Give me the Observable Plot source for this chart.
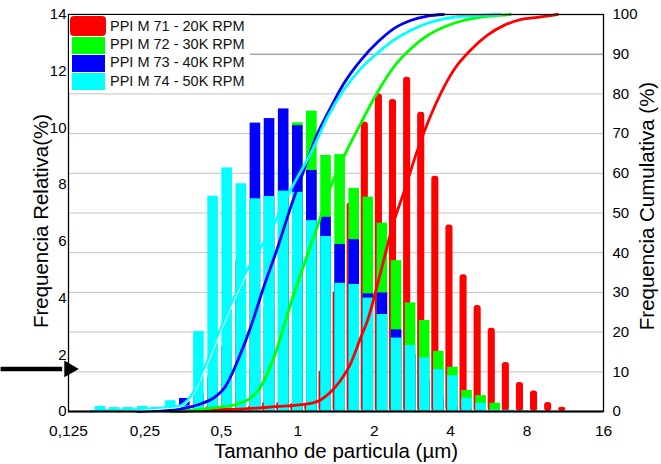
<!DOCTYPE html>
<html><head><meta charset="utf-8">
<script src="https://cdn.jsdelivr.net/npm/d3@7"></script>
<script src="https://cdn.jsdelivr.net/npm/@observablehq/plot@0.6"></script>
<style>
body{margin:0;background:#fff;font-family:"Liberation Sans",Arial,sans-serif;}
#wrap{position:relative;width:661px;height:464px;overflow:hidden;}
#legend{position:absolute;left:69px;top:15px;width:181px;height:77px;background:#fff;}
.sw{position:absolute;}
.lt{position:absolute;left:41px;font-size:14.5px;color:#111;line-height:18px;white-space:nowrap;}
</style></head>
<body><div id="wrap"><div id="chart"></div><div id="legend"></div></div>
<script>
// particle size bins (µm, bin centres)
const sizes = [0.167,0.190,0.215,0.245,0.278,0.316,0.359,0.408,0.464,0.527,0.599,0.681,0.774,0.880,1.000,1.136,1.292,1.468,1.668,1.896,2.154,2.448,2.783,3.162,3.594,4.084,4.642,5.275,5.995,6.813,7.743,8.799,10.0,11.365];
// relative frequency (%) per bin
const freq71 = [0,0,0,0,0,0,0,0.05,0.18,0.1,0.1,0.2,0.33,0.33,0.3,0.3,1.45,4.24,7.35,10.2,11.2,11.0,11.79,10.55,8.3,6.58,4.82,3.74,2.94,1.73,1.02,0.72,0.32,0.15];
const freq72 = [0,0,0,0,0,0.02,0.05,0.1,0.15,0.25,0.6,1.5,3.6,8.6,10.18,10.59,9.03,9.06,7.87,7.56,6.64,5.32,3.83,3.21,2.12,1.56,0.74,0.56,0.29,0.04,0,0,0,0];
const freq73 = [0,0.02,0.03,0.05,0.08,0.15,0.46,0.6,1.2,2.3,5.3,10.17,10.33,10.67,10.08,8.5,6.85,5.89,6.06,4.15,4.18,2.88,2.0,1.1,0.5,0.2,0.1,0.03,0,0,0,0,0,0];
const freq74 = [0.18,0.14,0.14,0.18,0.15,0.38,0.2,2.82,7.59,8.59,8.03,7.5,7.58,7.77,7.73,6.73,6.17,4.52,4.48,4.0,3.42,2.59,2.33,1.89,1.48,1.26,0.47,0.29,0.06,0.04,0.03,0.02,0,0];
// cumulative frequency curves [size µm, cumulative %]
const cum71 = [[0.33,0],[0.466,0.4],[0.634,0.7],[0.855,1.3],[1.092,1.9],[1.229,2.9],[1.346,4.9],[1.473,7.8],[1.613,12],[1.766,18.5],[1.882,22.9],[2.118,35],[2.382,47.5],[2.609,55],[2.989,66.6],[3.649,80],[4.105,85.9],[4.789,91],[5.587,94.8],[6.46,97.2],[7.536,98.7],[8.793,99.3],[10.54,100]];
const cum72 = [[0.315,0],[0.345,0.1],[0.466,0.9],[0.579,1.9],[0.651,3.4],[0.713,6.1],[0.767,10.3],[0.832,16.2],[0.895,22.9],[0.936,27],[1.092,39.5],[1.207,47.5],[1.346,56.5],[1.514,64],[1.766,72.4],[2.06,80.4],[2.382,86.7],[2.779,91.3],[3.242,94.7],[3.749,96.8],[4.374,98.3],[5.103,99.2],[5.741,99.6],[6.884,100]];
const cum73 = [[0.234,0],[0.288,0.3],[0.355,0.8],[0.414,1.9],[0.466,3.4],[0.519,6.3],[0.579,12.7],[0.651,21.1],[0.733,31.2],[0.832,41.2],[0.936,51.3],[1.053,60.5],[1.196,70],[1.309,75],[1.514,82.5],[1.766,88.4],[2.06,93],[2.382,96.4],[2.779,98.5],[3.242,99.6],[3.749,100]];
const cum74 = [[0.153,0],[0.176,0.2],[0.2,0.3],[0.228,0.45],[0.258,0.6],[0.296,0.9],[0.336,1.2],[0.381,4],[0.433,11.5],[0.492,20.1],[0.558,28.2],[0.634,35.7],[0.767,44.6],[0.962,57.2],[1.122,64.9],[1.309,74.1],[1.514,80.9],[1.766,86.3],[2.06,90.3],[2.382,93.5],[2.779,96],[3.242,97.8],[3.749,98.9],[4.374,99.5],[5.244,99.8],[6.286,100]];
const seriesNames = ["PPI M 71 - 20K RPM","PPI M 72 - 30K RPM","PPI M 73 - 40K RPM","PPI M 74 - 50K RPM"];
const colors = ["#ff0000","#00ff00","#0000ff","#00ffff"];
const xTicks = [0.125,0.25,0.5,1,2,4,8,16];
const xTickLabels = ["0,125","0,25","0,5","1","2","4","8","16"];
const yTicks = [0,2,4,6,8,10,12,14];
const cumTicks = [0,10,20,30,40,50,60,70,80,90,100];
const arrowNote = {x1: 0.0675, x2: 0.118, tip: 0.1257, y: 1.5};

const yMax = 14;
const toY = v => v * yMax / 100;
const ratio = Math.pow(sizes[sizes.length-1]/sizes[0], 1/(sizes.length-1));
const half = Math.sqrt(ratio);
const freqs = [freq71, freq72, freq73, freq74];
const cums = [cum71, cum72, cum73, cum74];
const barTables = freqs.map((arr, s) => arr.map((v, i) => ({size: sizes[i], value: v, series: seriesNames[s]})));

const marks = [];
// grid at cumulative 10% steps
marks.push(Plot.ruleY(cumTicks.filter(t => t > 0 && t < 100 && t !== 90), {y: d => toY(d), stroke: "#c4c4c4", strokeWidth: 1}));
marks.push(Plot.ruleY([90], {y: d => toY(d), stroke: "#808080", strokeWidth: 1}));
// bars: back to front
barTables.forEach((tab, s) => {
  const opts = {x1: d => d.size/half, x2: d => d.size*half, y1: 0, y2: "value", fill: colors[s]};
  if (s === 0) Object.assign(opts, {insetLeft: 0, insetRight: 7, rx: 3});
  else Object.assign(opts, {insetLeft: 1.75, insetRight: 1.75});
  marks.push(Plot.rect(tab.filter(d => d.value > 0), opts));
});
// cumulative curves
cums.forEach((c, s) => {
  marks.push(Plot.line(c, {x: d => d[0], y: d => toY(d[1]), stroke: colors[s], strokeWidth: 2.8, curve: "monotone-x"}));
  if (s === 3) marks.push(Plot.line(c.filter(d => d[0] < 0.75), {x: d => d[0], y: d => toY(d[1]), stroke: "white", strokeWidth: 1, dx: 0.9, dy: 0.9, curve: "monotone-x"}));
});
marks.push(Plot.ruleY([0], {stroke: "black", strokeWidth: 2}));
marks.push(Plot.frame({stroke: "black", strokeWidth: 1.3}));
// axes
marks.push(Plot.axisY(yTicks, {anchor: "left", tickSize: 0, tickPadding: 2, fontSize: 15, label: null, fill: "black"}));
marks.push(Plot.axisY(cumTicks.map(toY), {anchor: "right", tickSize: 0, tickPadding: 9, fontSize: 15, label: null, fill: "black", tickFormat: d => String(Math.round(d*100/yMax))}));
marks.push(Plot.axisX(xTicks, {anchor: "bottom", tickSize: 0, tickPadding: 13, fontSize: 15.5, label: null, fill: "black", tickFormat: d => xTickLabels[xTicks.indexOf(d)]}));
// axis titles
marks.push(Plot.text(["Frequencia Relativa(%)"], {frameAnchor: "left", textAnchor: "middle", lineAnchor: "middle", rotate: -90, dx: -27, dy: 8, fontSize: 20.5, fill: "black"}));
marks.push(Plot.text(["Frequencia Cumulativa (%)"], {frameAnchor: "right", textAnchor: "middle", lineAnchor: "middle", rotate: -90, dx: 44, dy: -7, fontSize: 20.5, fill: "black"}));
marks.push(Plot.text(["Tamanho de particula (µm)"], {frameAnchor: "bottom", textAnchor: "middle", lineAnchor: "middle", dy: 40, fontSize: 20.5, fill: "black"}));
// arrow annotation
marks.push(Plot.link([arrowNote], {x1: "x1", x2: "x2", y1: "y", y2: "y", stroke: "black", strokeWidth: 4.5, clip: false}));
marks.push(Plot.dot([arrowNote], {x: "tip", y: "y", symbol: "triangle", rotate: 90, r: 6.2, fill: "black", stroke: "none"}));

const chart = Plot.plot({
  width: 661, height: 464,
  marginLeft: 68, marginRight: 58, marginTop: 14, marginBottom: 53,
  x: {type: "log", base: 2, domain: [0.125, 16]},
  y: {domain: [0, yMax]},
  style: {fontFamily: "'Liberation Sans', Arial, sans-serif", background: "white", color: "black", overflow: "visible"},
  marks
});
document.getElementById("chart").appendChild(chart);

// legend
const leg = document.getElementById("legend");
const rows = [{top: 1, h: 20, l: 1, w: 36, r: 4, ty: 2}, {top: 22, h: 17, l: 3, w: 33, r: 0, ty: 20}, {top: 40, h: 17, l: 3, w: 33, r: 0, ty: 38}, {top: 58, h: 17, l: 3, w: 33, r: 0, ty: 57}];
seriesNames.forEach((n, i) => {
  const sw = document.createElement("div");
  sw.className = "sw";
  Object.assign(sw.style, {left: rows[i].l + "px", top: rows[i].top + "px", width: rows[i].w + "px", height: rows[i].h + "px", background: colors[i], borderRadius: rows[i].r + "px"});
  leg.appendChild(sw);
  const t = document.createElement("div");
  t.className = "lt";
  t.style.top = rows[i].ty + "px";
  t.textContent = n;
  leg.appendChild(t);
});
</script>
</body></html>
